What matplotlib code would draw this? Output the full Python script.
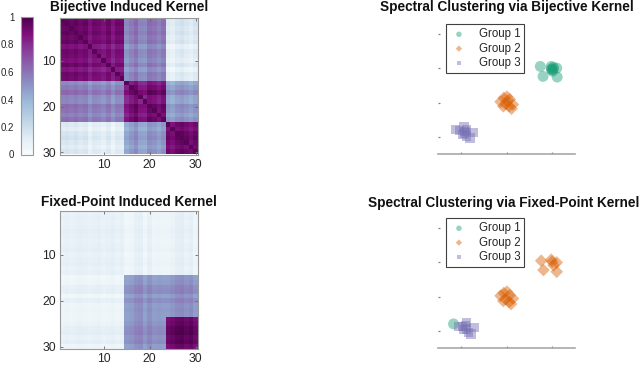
import numpy as np
import matplotlib
matplotlib.use('Agg')
import matplotlib.pyplot as plt

plt.rcParams['font.family'] = ['Liberation Sans', 'DejaVu Sans']

# ---------------- data ----------------
group_sizes = [14, 9, 7]
tick_vals = [10, 20, 30]
cbar_ticks = [0, 0.2, 0.4, 0.6, 0.8, 1]
cbar_labels = ['0', '0.2', '0.4', '0.6', '0.8', '1']

bij_block = [[0.86, 0.54, 0.10],
             [0.54, 0.88, 0.47],
             [0.10, 0.47, 0.90]]
bij_mod = [0.04, 0.05, 0.03, 0.05, 0.02, 0.04, -0.03, 0.02, 0.01, -0.02,
           0.03, -0.04, 0.02, 0.01, -0.05, 0.00, 0.05, -0.03, -0.04, 0.04,
           0.02, -0.02, 0.03, 0.00, -0.03, 0.02, 0.04, 0.01, -0.02, 0.02]
bij_diag = 0.97

fix_block = [[0.07, 0.04, 0.04],
             [0.04, 0.47, 0.47],
             [0.04, 0.47, 0.88]]
fix_mod = [0.00, 0.01, 0.00, 0.01, 0.02, 0.01, 0.00, 0.01, 0.02, 0.00,
           0.01, 0.02, 0.00, 0.01, -0.01, 0.00, 0.04, 0.05, -0.01, 0.04,
           0.00, 0.01, 0.00, 0.00, 0.02, 0.05, 0.06, 0.03, 0.05, 0.00]

group_names = ['Group 1', 'Group 2', 'Group 3']
group_colors = ['#1b9e77', '#d95f02', '#7570b3']
group_markers = ['o', 'D', 's']

# spectral embedding, bijective kernel
bij_g1_x = [0.74, 0.98, 1.10, 0.80, 1.11, 1.01, 0.98, 1.03, 0.99, 1.02]
bij_g1_y = [1.06, 1.06, 1.01, 0.77, 0.75, 0.92, 0.99, 1.03, 0.96, 0.98]
bij_g2_x = [-0.13, -0.06, 0.01, 0.07, -0.02, 0.06, 0.11, -0.07, 0.14, 0.02]
bij_g2_y = [0.03, 0.14, 0.18, 0.10, -0.03, -0.10, -0.17, -0.10, -0.05, 0.05]
bij_g3_x = [-1.12, -1.03, -0.93, -0.91, -0.87, -0.73, -0.80, -0.96, -0.88, -0.92]
bij_g3_y = [-0.77, -0.80, -0.71, -0.84, -0.97, -0.87, -1.03, -0.92, -0.77, -0.88]

# spectral embedding, fixed-point kernel
fix_g1_x = [-1.16]
fix_g1_y = [-0.79]
fix_g2_x = [-0.13, -0.06, 0.01, 0.07, -0.02, 0.06, 0.10, -0.07, 0.14,
            0.76, 0.98, 1.10, 0.81, 1.10, 1.03, 1.00]
fix_g2_y = [0.03, 0.11, 0.15, 0.05, -0.07, -0.15, -0.21, -0.12, -0.05,
            1.05, 1.08, 1.00, 0.78, 0.73, 0.92, 1.02]
fix_g3_x = [-1.05, -0.96, -0.88, -0.88, -0.83, -0.71, -0.78, -0.94, -0.90]
fix_g3_y = [-0.86, -0.86, -0.75, -0.94, -1.04, -0.89, -1.08, -0.96, -0.85]

# ---------------- figure ----------------
W, H = 640, 369
fig = plt.figure(figsize=(W / 100, H / 100), dpi=100)


def ax_px(x0, y0, x1, y1):
    return fig.add_axes([x0 / W, 1 - y1 / H, (x1 - x0) / W, (y1 - y0) / H])


labels = np.repeat(np.arange(3), group_sizes)


def kernel(block, mod, diag=None):
    b = np.array(block)
    m = np.array(mod)
    K = b[labels][:, labels] + m[:, None] + m[None, :]
    if diag is not None:
        np.fill_diagonal(K, diag)
    return np.clip(K, 0, 1)


K_bij = kernel(bij_block, bij_mod, bij_diag)
K_fix = kernel(fix_block, fix_mod)

n = sum(group_sizes)
txt = '#262626'


def heat(ax, K):
    im = ax.imshow(K, cmap='BuPu', vmin=0, vmax=1, aspect='auto',
                   interpolation='nearest',
                   extent=(0.5, n + 0.5, n + 0.5, 0.5))
    ax.set_xticks(tick_vals)
    ax.set_yticks(tick_vals)
    ax.tick_params(direction='in', length=2.5, width=0.6, color='#666666',
                   top=True, right=True, labelsize=8.8, labelcolor=txt, pad=3)
    for s in ax.spines.values():
        s.set_color('#9a9a9a')
        s.set_linewidth(0.8)
    return im


ax1 = ax_px(60, 17.5, 198, 154.5)
im = heat(ax1, K_bij)
ax2 = ax_px(60, 211, 198, 349)
heat(ax2, K_fix)

cax = ax_px(20.7, 17, 33.3, 154.5)
cb = fig.colorbar(im, cax=cax, ticks=cbar_ticks)
cb.ax.set_yticklabels(cbar_labels)
cax.yaxis.set_ticks_position('left')
cax.yaxis.set_label_position('left')
cax.tick_params(length=0, labelsize=7.0, labelcolor=txt, pad=4.5)
cb.outline.set_edgecolor('#9a9a9a')
cb.outline.set_linewidth(0.8)


def scat(ax, xs, ys):
    for (x, y), c, m, name in zip(zip(xs, ys), group_colors, group_markers,
                                  group_names):
        size = {'o': 62, 'D': 42, 's': 46}[m]
        ax.scatter(x, y, s=size, c=c, marker=m, alpha=0.45,
                   edgecolors='none', label=name)
    ax.set_xlim(-1.5, 1.5)
    ax.set_ylim(-1.5, 2.5)
    ax.set_xticks([-1, 0, 1])
    ax.set_yticks([-1, 0, 1, 2])
    ax.set_xticklabels([])
    ax.set_yticklabels([])
    for k in ['top', 'right', 'left']:
        ax.spines[k].set_visible(False)
    ax.spines['bottom'].set_color('#a8a8a8')
    ax.spines['bottom'].set_linewidth(1.2)
    ax.tick_params(direction='in', length=1.2, width=0.9, color='#808080')
    leg = ax.legend(loc='upper left', bbox_to_anchor=(0.056, 0.947),
                    borderaxespad=0, fancybox=False, fontsize=8.3,
                    markerscale=0.5, handletextpad=0.9, labelspacing=0.2,
                    borderpad=0.35, handlelength=1.6, framealpha=1)
    leg.get_frame().set_edgecolor('#404040')
    leg.get_frame().set_linewidth(0.8)
    for t in leg.get_texts():
        t.set_color(txt)


ax3 = ax_px(438, 17, 575, 154.3)
scat(ax3, [bij_g1_x, bij_g2_x, bij_g3_x], [bij_g1_y, bij_g2_y, bij_g3_y])
ax4 = ax_px(438, 211, 575, 348.3)
scat(ax4, [fix_g1_x, fix_g2_x, fix_g3_x], [fix_g1_y, fix_g2_y, fix_g3_y])

tkw = dict(fontsize=9.8, fontweight='bold', ha='center', va='baseline',
           color='#111111')
fig.text(129 / W, 1 - 11 / H, 'Bijective Induced Kernel', **tkw)
fig.text(129 / W, 1 - 206.5 / H, 'Fixed-Point Induced Kernel', **tkw)
fig.text(506.5 / W, 1 - 11 / H, 'Spectral Clustering via Bijective Kernel', **tkw)
fig.text(639 / W, 1 - 206.5 / H, 'Spectral Clustering via Fixed-Point Kernel',
         **dict(tkw, ha='right'))

fig.savefig('out.png', dpi=100)
